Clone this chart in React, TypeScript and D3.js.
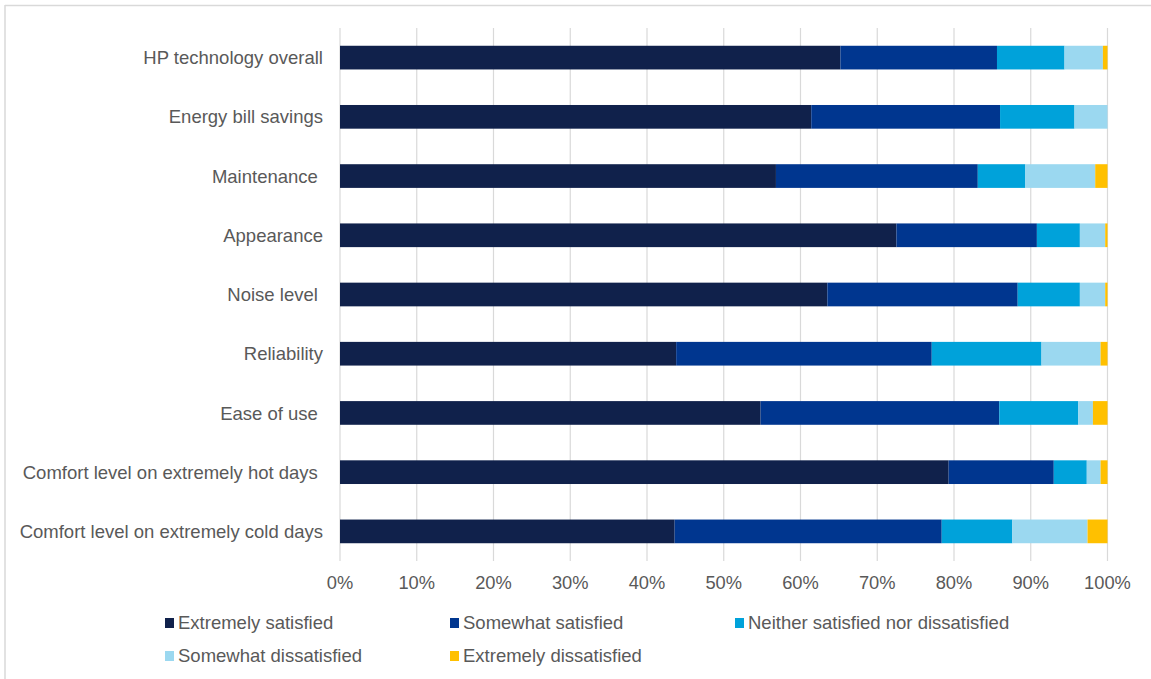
import React from "react";
import * as d3 from "d3";

const categories = [
  "HP technology overall",
  "Energy bill savings",
  "Maintenance ",
  "Appearance",
  "Noise level ",
  "Reliability",
  "Ease of use ",
  "Comfort level on extremely hot days ",
  "Comfort level on extremely cold days",
];

const seriesNames = [
  "Extremely satisfied",
  "Somewhat satisfied",
  "Neither satisfied nor dissatisfied",
  "Somewhat dissatisfied",
  "Extremely dissatisfied",
];

const extremelySatisfied = [65.2, 61.4, 56.8, 72.5, 63.5, 43.8, 54.8, 79.3, 43.6];
const somewhatSatisfied = [20.4, 24.6, 26.3, 18.3, 24.8, 33.3, 31.1, 13.7, 34.8];
const neither = [8.8, 9.7, 6.2, 5.6, 8.1, 14.3, 10.3, 4.3, 9.2];
const somewhatDissatisfied = [5.0, 4.3, 9.1, 3.3, 3.3, 7.7, 1.9, 1.8, 9.8];
const extremelyDissatisfied = [0.6, 0.0, 1.6, 0.3, 0.3, 0.9, 1.9, 0.9, 2.6];

const xTicks = [0, 10, 20, 30, 40, 50, 60, 70, 80, 90, 100];

const colors = ["#10214b", "#00368f", "#00a2da", "#9bd8f0", "#ffc000"];

const W = 1151;
const H = 679;
const FONT = "'Liberation Sans', Arial, sans-serif";
const TXT = "#595959";

export default function App() {
  const seriesValues = [
    extremelySatisfied,
    somewhatSatisfied,
    neither,
    somewhatDissatisfied,
    extremelyDissatisfied,
  ];
  const rows = categories.map((c, i) => {
    const r: any = { cat: c };
    seriesNames.forEach((s, j) => (r[s] = seriesValues[j][i]));
    return r;
  });
  const stacked = d3.stack<any>().keys(seriesNames)(rows);

  const x = d3.scaleLinear().domain([0, 100]).range([340, 1107.5]);
  const y = d3
    .scaleBand<string>()
    .domain(categories)
    .range([28, 561])
    .paddingInner(0.6)
    .paddingOuter(0.3);

  const legendPos = [
    [165, 629],
    [450, 629],
    [735, 629],
    [165, 662],
    [450, 662],
  ];

  return (
    <svg
      width={W}
      height={H}
      style={{ position: "absolute", left: 0, top: 0, background: "#fff" }}
      fontFamily={FONT}
    >
      <rect x={0} y={0} width={W} height={H} fill="#fff" />
      <line x1={5} x2={W} y1={5.5} y2={5.5} stroke="#d9d9d9" strokeWidth={1.5} />
      <line x1={5} x2={5} y1={5} y2={H} stroke="#d9d9d9" strokeWidth={1.5} />
      {xTicks.map((t) => (
        <line
          key={"g" + t}
          x1={x(t)}
          x2={x(t)}
          y1={28}
          y2={561}
          stroke="#d9d9d9"
          strokeWidth={1.2}
        />
      ))}
      {stacked.map((s, j) => (
        <g key={s.key} fill={colors[j]}>
          {s.map((d, i) => (
            <rect
              key={i}
              x={x(d[0])}
              y={y(categories[i])}
              width={Math.max(0, x(d[1]) - x(d[0]))}
              height={y.bandwidth()}
            />
          ))}
        </g>
      ))}
      {categories.map((c) => (
        <text
          key={c}
          x={323}
          y={(y(c) as number) + y.bandwidth() / 2 + 6.6}
          textAnchor="end"
          fontSize={18.5}
          fill={TXT}
          style={{ whiteSpace: "pre" }}
        >
          {c}
        </text>
      ))}
      {xTicks.map((t) => (
        <text
          key={"t" + t}
          x={x(t)}
          y={588.5}
          textAnchor="middle"
          fontSize={18.3}
          fill={TXT}
        >
          {t + "%"}
        </text>
      ))}
      {seriesNames.map((s, j) => (
        <g key={"l" + s}>
          <rect
            x={legendPos[j][0]}
            y={legendPos[j][1] - 11}
            width={9}
            height={10}
            fill={colors[j]}
          />
          <text x={legendPos[j][0] + 13} y={legendPos[j][1]} fontSize={18.5} fill={TXT}>
            {s}
          </text>
        </g>
      ))}
    </svg>
  );
}
